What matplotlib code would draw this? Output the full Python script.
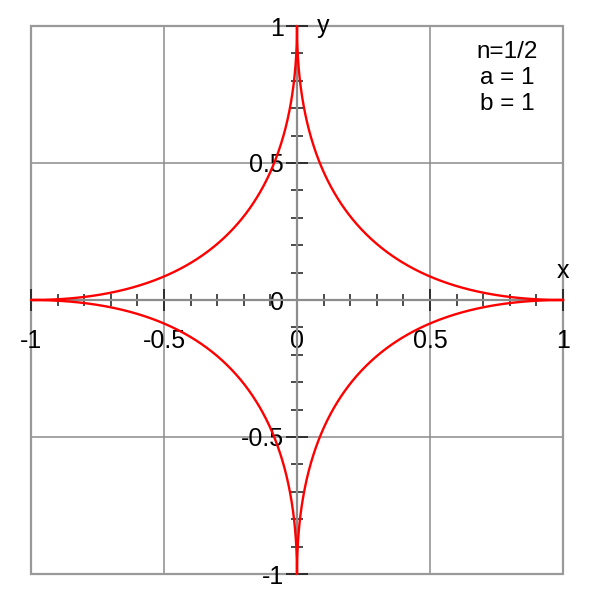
import numpy as np
import matplotlib.pyplot as plt
from matplotlib.patches import Rectangle
from matplotlib.ticker import MultipleLocator

plt.rcParams['font.family'] = ['Liberation Sans', 'DejaVu Sans']

# superellipse |x/a|^n + |y/b|^n = 1
n = 0.5
a = 1.0
b = 1.0
labels = ["n=1/2", "a = 1", "b = 1"]
major_ticks = [-1, -0.5, 0, 0.5, 1]
tick_labels = ["-1", "-0.5", "0", "0.5", "1"]

t = np.linspace(0, 2 * np.pi, 4001)
c, s = np.cos(t), np.sin(t)
xs = a * np.sign(c) * np.abs(c) ** (2 / n)
ys = b * np.sign(s) * np.abs(s) ** (2 / n)

fig = plt.figure(figsize=(6, 6), dpi=100)
ax = fig.add_axes([31 / 600, 26 / 600, 532 / 600, 548 / 600])
ax.set_xlim(-1, 1)
ax.set_ylim(-1, 1)

grid_col = "#8c8c8c"
for v in (-0.5, 0.5):
    ax.axvline(v, color=grid_col, lw=1.1, zorder=1)
    ax.axhline(v, color=grid_col, lw=1.1, zorder=1)
ax.add_patch(Rectangle((0, 0), 1, 1, transform=ax.transAxes, fill=False,
                       edgecolor="#999999", lw=1.6, clip_on=False, zorder=1))

# axes through the origin
for side in ("top", "right"):
    ax.spines[side].set_visible(False)
for side in ("left", "bottom"):
    ax.spines[side].set_position("zero")
    ax.spines[side].set_color(grid_col)
    ax.spines[side].set_linewidth(1.6)
    ax.spines[side].set_zorder(2)

ax.xaxis.set_major_locator(MultipleLocator(0.5))
ax.yaxis.set_major_locator(MultipleLocator(0.5))
ax.xaxis.set_minor_locator(MultipleLocator(0.1))
ax.yaxis.set_minor_locator(MultipleLocator(0.1))
ax.set_xticks(major_ticks, tick_labels)
ax.set_yticks(major_ticks, tick_labels)
ax.tick_params(which="major", direction="inout", length=16, width=1.2,
               color="#1a1a1a", labelsize=18)
ax.tick_params(which="minor", direction="inout", length=9, width=1.1,
               color="#1a1a1a")
ax.tick_params(axis="x", which="major", pad=13)
ax.tick_params(axis="y", which="major", pad=1.5)

ax.plot(xs, ys, color="red", lw=1.7, zorder=3, clip_on=False)

ax.text(1.0, 0.105, "x", fontsize=18, ha="center", va="center")
ax.text(0.1, 1.0, "y", fontsize=18, ha="center", va="center")
ax.text(0.79, 0.81, "\n".join(labels), fontsize=17.5, ha="center", va="center",
        multialignment="center", linespacing=1.24)

fig.savefig("out.png", dpi=100)
